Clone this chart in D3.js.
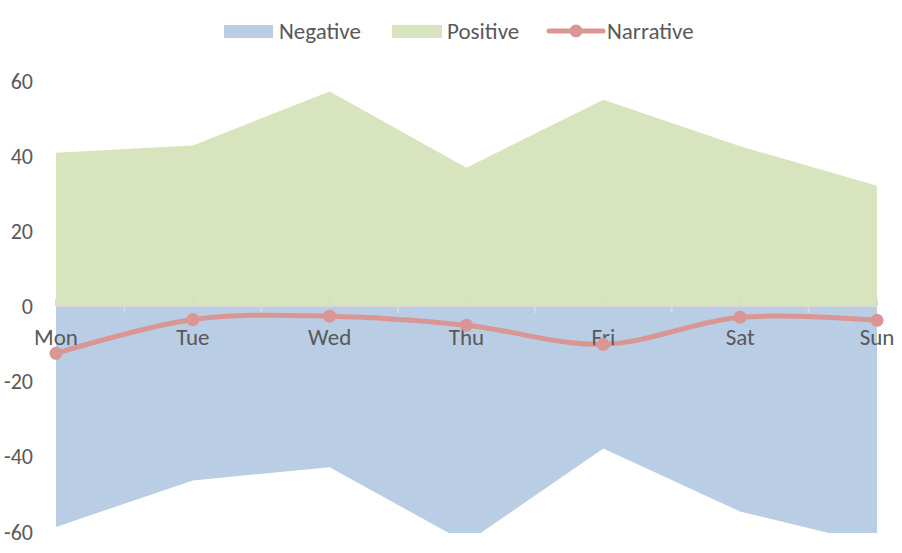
<!DOCTYPE html>
<html>
<head>
<meta charset="utf-8">
<script src="https://cdn.jsdelivr.net/npm/d3@7"></script>
<style>
  body { margin: 0; background: #fff; }
  text { font-family: Carlito, Lato, "Open Sans", sans-serif; fill: #595959; }
</style>
</head>
<body>
<script>
var days = ["Mon", "Tue", "Wed", "Thu", "Fri", "Sat", "Sun"];
var negative = [-58.8, -46.4, -42.9, -63, -37.9, -54.7, -63.5];
var positive = [40.8, 42.7, 57.1, 36.8, 54.9, 42.5, 32];
var narrative = [-12.6, -3.6, -2.7, -5.1, -10.2, -3.0, -3.8];
var yTicks = [-60, -40, -20, 0, 20, 40, 60];

var width = 902, height = 553;

var svg = d3.select("body").append("svg")
    .attr("width", width)
    .attr("height", height);

var x = d3.scalePoint()
    .domain(days)
    .range([56, 877]);

var y = d3.scaleLinear()
    .domain([-60, 60])
    .range([531.5, 80.5]);

svg.append("clipPath")
    .attr("id", "plot")
    .append("rect")
    .attr("x", 0)
    .attr("y", y(60) - 10)
    .attr("width", width)
    .attr("height", y(-60) - y(60) + 11.5);

var area = d3.area()
    .x(function(d, i) { return x(days[i]); })
    .y0(y(0))
    .y1(function(d) { return y(d); });

var plot = svg.append("g").attr("clip-path", "url(#plot)");

plot.append("path")
    .datum(negative)
    .attr("d", area)
    .attr("fill", "#b9cde5");

plot.append("path")
    .datum(positive)
    .attr("d", area)
    .attr("fill", "#d7e4bd");

// x axis line at zero with ticks (up at categories, down between)
var step = x.step();
svg.append("line")
    .attr("x1", x("Mon")).attr("x2", x("Sun"))
    .attr("y1", y(0)).attr("y2", y(0))
    .attr("stroke", "#d9d9d9")
    .attr("stroke-width", 2);

svg.selectAll(".tick-up")
    .data(days)
    .enter().append("line")
    .attr("x1", function(d) { return x(d); })
    .attr("x2", function(d) { return x(d); })
    .attr("y1", y(0) - 7).attr("y2", y(0))
    .attr("stroke", "#d9d9d9")
    .attr("stroke-width", 2);

svg.selectAll(".tick-down")
    .data(days.slice(0, -1))
    .enter().append("line")
    .attr("x1", function(d) { return x(d) + step / 2; })
    .attr("x2", function(d) { return x(d) + step / 2; })
    .attr("y1", y(0)).attr("y2", y(0) + 7)
    .attr("stroke", "#d9d9d9")
    .attr("stroke-width", 2);

// y labels
svg.selectAll(".ylab")
    .data(yTicks)
    .enter().append("text")
    .attr("x", 33)
    .attr("y", function(d) { return y(d) + 8; })
    .attr("text-anchor", "end")
    .attr("font-size", 22)
    .text(function(d) { return d; });

// narrative line
var line = d3.line()
    .x(function(d, i) { return x(days[i]); })
    .y(function(d) { return y(d); })
    .curve(d3.curveCardinal.tension(0));

svg.append("path")
    .datum(narrative)
    .attr("d", line)
    .attr("fill", "none")
    .attr("stroke", "#d99694")
    .attr("stroke-width", 5);

// category labels
svg.selectAll(".xlab")
    .data(days)
    .enter().append("text")
    .attr("x", function(d) { return x(d); })
    .attr("y", 345)
    .attr("text-anchor", "middle")
    .attr("font-size", 23)
    .text(function(d) { return d; });

svg.selectAll(".dot")
    .data(narrative)
    .enter().append("circle")
    .attr("cx", function(d, i) { return x(days[i]); })
    .attr("cy", function(d) { return y(d); })
    .attr("r", 6.5)
    .attr("fill", "#d99694");

// legend
var legend = svg.append("g");
legend.append("rect").attr("x", 224).attr("y", 25).attr("width", 49).attr("height", 13).attr("fill", "#b9cde5");
legend.append("text").attr("x", 279).attr("y", 39).attr("font-size", 23).text("Negative");
legend.append("rect").attr("x", 392).attr("y", 25).attr("width", 50).attr("height", 13).attr("fill", "#d7e4bd");
legend.append("text").attr("x", 447).attr("y", 39).attr("font-size", 23).text("Positive");
legend.append("line").attr("x1", 549).attr("x2", 603).attr("y1", 31).attr("y2", 31)
    .attr("stroke", "#d99694").attr("stroke-width", 5).attr("stroke-linecap", "round");
legend.append("circle").attr("cx", 576).attr("cy", 31).attr("r", 6.5).attr("fill", "#d99694");
legend.append("text").attr("x", 607).attr("y", 39).attr("font-size", 23).text("Narrative");
</script>
</body>
</html>
